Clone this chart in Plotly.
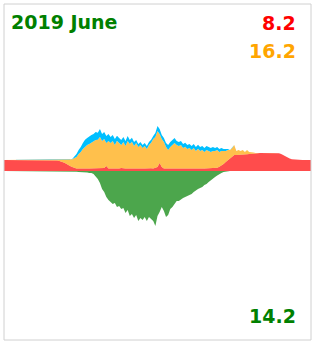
import pandas as pd
import plotly.graph_objects as go

# 10-minute samples over the day 2019-06-15
times = pd.date_range("2019-06-15 00:00", "2019-06-16 00:00", freq="10min")

# Power in watts (grid import, self consumption, battery, feed-in)
grid = [
    550, 550, 550, 550, 550, 550, 550, 550, 550, 550, 550, 550, 550, 550, 550, 550, 550, 550, 550, 550, 550,
    550, 550, 550, 540, 525, 500, 475, 425, 375, 300, 250, 200, 150,
    125, 130, 120, 125, 135, 120, 125, 130, 120, 125, 135, 125, 120,
    150, 250,
    125, 130, 120, 125, 135, 120,
    150,
    125, 130, 120, 125, 135, 125, 120, 130,
    150,
    125, 120, 130, 125, 135, 120,
    150, 200, 400, 200,
    125, 130, 120, 125, 135, 120, 125, 130, 120, 125, 135, 125,
    120, 130, 125, 120, 135, 125, 130, 120, 125, 130, 120, 125,
    135, 165, 215, 275, 350, 450, 550, 650, 750, 800, 800, 800, 800, 815, 825, 835, 850, 850, 865, 875, 885,
    900, 900, 900, 900, 900, 900, 900,
    900, 890, 885, 850, 790, 725, 675, 625, 590, 575, 565, 560, 555, 550, 550, 550, 550, 550,
]

solar_used = [
    0, 0, 0, 0, 0, 0, 0, 0, 0, 0, 0, 0, 0, 0, 0, 0, 0, 0, 0, 0, 0,
    0, 0, 0, 10, 25, 50, 75, 125, 175, 250, 310, 385, 500,
    575, 725, 825, 975, 1075, 1175, 1225, 1275, 1375, 1425, 1425, 1575, 1375,
    1450, 1150,
    1375, 1275, 1375, 1175, 1375, 1275,
    1150,
    1325, 1125, 1375, 1225, 1325, 1125, 1275, 1075,
    1150,
    1025, 1125, 975, 1175, 1275, 1475,
    1550, 1800, 1450, 1400,
    1325, 1075, 925, 1075, 1175, 1275, 1175, 1125, 1175, 1025, 1075, 975,
    1025, 925, 1025, 875, 975, 875, 925, 825, 925, 875, 825, 875,
    865, 885, 735, 725, 650, 550, 500, 400, 400, 500, 200, 250, 200, 235, 125, 215, 100, 100, 60, 25, 10,
    0, 0, 0, 0, 0, 0, 0,
    0, 0, 0, 0, 0, 0, 0, 0, 0, 0, 0, 0, 0, 0, 0, 0, 0, 0,
]

battery = [
    0, 0, 0, 0, 0, 0, 0, 0, 0, 0, 0, 0, 0, 0, 0, 0, 0, 0, 0, 0, 0,
    0, 0, 0, 0, 0, 0, 0, 0, 0, 0, 0, 15, 50,
    150, 200, 250, 300, 350, 350, 400, 400, 350, 400, 350, 400, 350,
    350, 350,
    350, 300, 300, 300, 250, 250,
    250,
    250, 250, 250, 200, 200, 200, 150, 150,
    150,
    150, 150, 150, 150, 150, 150,
    200, 250, 250, 200,
    200, 200, 250, 250, 250, 250, 200, 200, 200, 200, 200, 200,
    200, 200, 200, 200, 200, 200, 200, 200, 200, 200, 200, 200,
    150, 150, 150, 150, 100, 100, 50, 0, 0, 0, 0, 0, 0, 0, 0, 0, 0, 0, 0, 0, 0,
    0, 0, 0, 0, 0, 0, 0,
    0, 0, 0, 0, 0, 0, 0, 0, 0, 0, 0, 0, 0, 0, 0, 0, 0, 0,
]

feed_in = [
    0, 0, 0, 0, 0, 0, 0, 0, 0, 0, 0, 0, 0, 0, 0, 0, 0, 0, 0, 0, 0,
    0, 0, 0, 0, 0, 0, 0, 0, 0, 0, 0, -10, -25,
    -35, -50, -50, -60, -75, -75, -100, -100, -150, -250, -400, -600, -900,
    -1050, -1300,
    -1450, -1550, -1650, -1600, -1800, -1750,
    -1900,
    -1850, -2100, -1950, -2250, -2150, -2350, -2200, -2500,
    -2350,
    -2450, -2300, -2500, -2300, -2400, -2500,
    -2750, -2250, -2050, -1800,
    -2000, -2300, -2200, -1900, -1800, -1650, -1500, -1500, -1400, -1350, -1300, -1250,
    -1200, -1150, -1050, -950, -900, -850, -800, -700, -650, -550, -450, -375,
    -300, -225, -150, -100, -50, -25, -10, 0, 0, 0, 0, 0, 0, 0, 0, 0, 0, 0, 0, 0, 0,
    0, 0, 0, 0, 0, 0, 0,
    0, 0, 0, 0, 0, 0, 0, 0, 0, 0, 0, 0, 0, 0, 0, 0, 0, 0,
]

title_text = "2019 June"
total_grid = "8.2"
total_used = "16.2"
total_feed = "14.2"

RED = "rgba(255,0,0,0.7)"
ORANGE = "rgba(255,165,0,0.7)"
BLUE = "rgb(0,191,255)"
GREEN = "rgba(0,128,0,0.7)"

fig = go.Figure()
for name, vals, col in [("grid", grid, RED), ("used", solar_used, ORANGE), ("battery", battery, BLUE)]:
    fig.add_trace(go.Scatter(x=times, y=vals, name=name, mode="lines", stackgroup="pos",
                             line=dict(width=0, color=col), fillcolor=col, hoverinfo="skip"))
fig.add_trace(go.Scatter(x=times, y=feed_in, name="feed", mode="lines", fill="tozeroy",
                         line=dict(width=0, color=GREEN), fillcolor=GREEN, hoverinfo="skip"))

W, H = 314, 343
ml, mr, mt, mb = 4, 3, 4, 3
pw, ph = W - ml - mr, H - mt - mb

def px(x):
    return (x - ml) / pw

def py(y):
    return (H - mb - y) / ph

font = dict(family="DejaVu Sans", size=19)
ann = [
    dict(text="<b>%s</b>" % title_text, x=px(9.7), y=py(22.2), xanchor="left", yanchor="middle",
         font=dict(color="#008000", **font)),
    dict(text="<b>%s</b>" % total_grid, x=px(297), y=py(22.7), xanchor="right", yanchor="middle",
         font=dict(color="#FF0000", **font)),
    dict(text="<b>%s</b>" % total_used, x=px(297), y=py(50.8), xanchor="right", yanchor="middle",
         font=dict(color="#FFA500", **font)),
    dict(text="<b>%s</b>" % total_feed, x=px(297), y=py(316), xanchor="right", yanchor="middle",
         font=dict(color="#008000", **font)),
]
for a in ann:
    a.update(xref="paper", yref="paper", showarrow=False, borderpad=0)

fig.update_layout(
    width=W, height=H,
    margin=dict(l=ml, r=mr, t=mt, b=mb),
    paper_bgcolor="white", plot_bgcolor="white",
    showlegend=False,
    hovermode=False,
    annotations=ann,
    xaxis=dict(visible=False, range=[times[0], times[-1]], fixedrange=True),
    yaxis=dict(visible=False, range=[-8450, 8350], fixedrange=True),
    shapes=[dict(type="rect", xref="paper", yref="paper", x0=0, x1=1, y0=0, y1=1,
                 line=dict(color="#d0d0d0", width=1))],
)

fig.write_html("out.html", config={"displayModeBar": False})
